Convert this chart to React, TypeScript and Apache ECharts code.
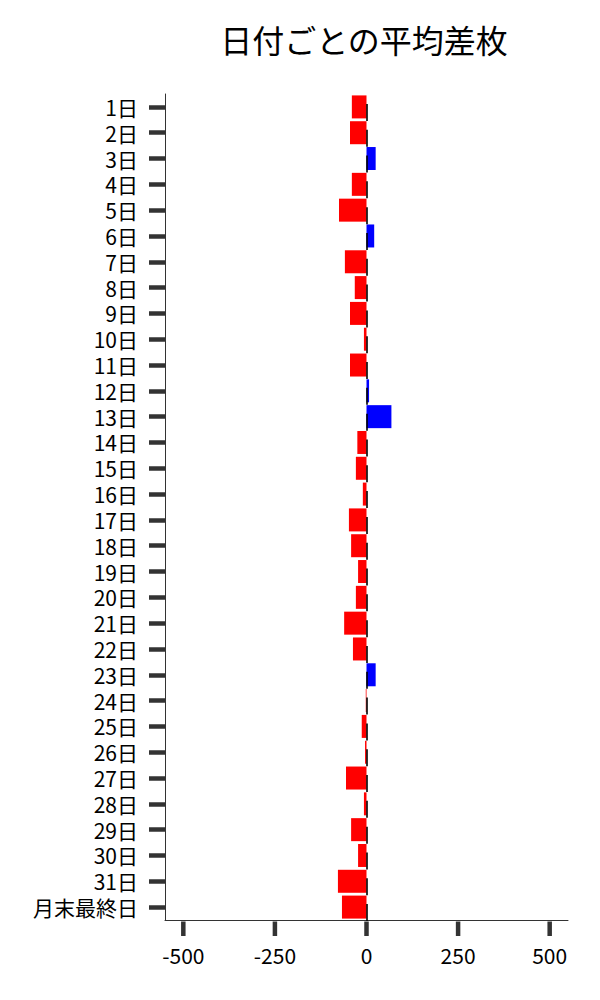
import React, { useEffect, useRef } from 'react';
import * as echarts from 'echarts';

// 日付カテゴリ
const days = [
    '1日', '2日', '3日', '4日', '5日', '6日', '7日', '8日', '9日', '10日',
    '11日', '12日', '13日', '14日', '15日', '16日', '17日', '18日', '19日', '20日',
    '21日', '22日', '23日', '24日', '25日', '26日', '27日', '28日', '29日', '30日',
    '31日', '月末最終日',
];

// 平均差枚
const avgDiff = [
    -40, -45, 25, -40, -75, 21, -59, -32, -45, -7,
    -45, 7, 68, -25, -29, -10, -48, -42, -23, -29,
    -61, -37, 25, -2, -13, -4, -56, -7, -42, -23,
    -78, -67,
];

// 0 付近の黒いマーク
const markValues = [
    0, 0, 0, 0, 0, 0, 0, 0, 0, 0,
    0, 0, 0, 0, 0, 0, 0, 0, 0, 0,
    0, 0, 0, 0, 0, 0, 0, 0, 0, 0,
    0, 0,
];

const xTicks = [-500, -250, 0, 250, 500];

const FONT = '"Noto Sans CJK JP", "Noto Sans", sans-serif';

const App = () => {
    const chartRef = useRef<HTMLDivElement>(null);

    useEffect(() => {
        const myChart = echarts.init(chartRef.current, null, { renderer: 'svg' });

        const option = {
            animation: false,
            textStyle: { fontFamily: FONT },
            title: {
                text: '日付ごとの平均差枚',
                left: 351,
                top: 10,
                textAlign: 'center',
                textStyle: { fontSize: 32, fontWeight: 'normal', color: '#000', fontFamily: FONT },
            },
            grid: { left: 157, right: 24, top: 86, bottom: 72 },
            xAxis: {
                type: 'value',
                min: -550,
                max: 550,
                splitLine: { show: false },
                axisLine: { show: true, onZero: false, lineStyle: { color: '#333', width: 1 } },
                axisTick: { show: false },
                axisLabel: {
                    customValues: xTicks,
                    margin: 24,
                    fontSize: 21,
                    color: '#000',
                    fontFamily: FONT,
                },
            },
            yAxis: {
                type: 'category',
                data: days,
                inverse: true,
                axisLine: { show: true, onZero: false, lineStyle: { color: '#333', width: 1 } },
                axisTick: {
                    show: true,
                    alignWithLabel: true,
                    interval: 0,
                    length: 16,
                    lineStyle: { color: '#333', width: 4.5 },
                },
                axisLabel: {
                    interval: 0,
                    margin: 27,
                    fontSize: 21,
                    lineHeight: 21,
                    color: '#000',
                    fontFamily: FONT,
                },
            },
            series: [
                {
                    type: 'bar',
                    data: avgDiff,
                    barWidth: 23,
                    itemStyle: {
                        color: (p: any) => (p.value >= 0 ? '#0000ff' : '#ff0000'),
                    },
                },
                {
                    type: 'scatter',
                    data: markValues,
                    symbol: 'rect',
                    symbolSize: [2, 17],
                    symbolOffset: [0.5, 5.5],
                    itemStyle: { color: '#000' },
                    z: 5,
                },
                {
                    // x 軸の目盛り (値は xTicks から)
                    type: 'custom',
                    data: xTicks.map((v) => [v]),
                    encode: { x: 0 },
                    clip: false,
                    silent: true,
                    renderItem: (params: any, api: any) => {
                        const x = api.coord([api.value(0), days[0]])[0];
                        const bottom = params.coordSys.y + params.coordSys.height;
                        return {
                            type: 'rect',
                            shape: { x: x - 2.25, y: bottom + 1.5, width: 4.5, height: 14.5 },
                            style: { fill: '#333' },
                        };
                    },
                },
            ],
        };

        myChart.setOption(option);

        return () => {
            myChart.dispose();
        };
    }, []);

    return <div ref={chartRef} style={{ width: '584px', height: '984px' }} />;
};

export default App;
